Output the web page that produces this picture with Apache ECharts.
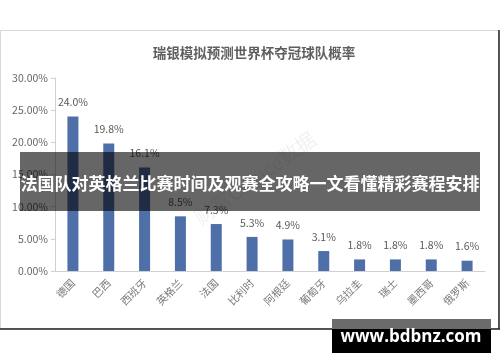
<!DOCTYPE html>
<html>
<head>
<meta charset="utf-8">
<script src="https://cdn.jsdelivr.net/npm/echarts@6/dist/echarts.min.js"></script>
<style>
html,body{margin:0;padding:0;background:#fff;}
#c{width:500px;height:362px;}
</style>
</head>
<body>
<div id="c"></div>
<script>
const categories = ['德国','巴西','西班牙','英格兰','法国','比利时','阿根廷','葡萄牙','乌拉圭','瑞士','墨西哥','俄罗斯'];
const values = [24.0, 19.8, 16.1, 8.5, 7.3, 5.3, 4.9, 3.1, 1.8, 1.8, 1.8, 1.6];
const yTicks = [0, 5, 10, 15, 20, 25, 30];
const titleText = '瑞银模拟预测世界杯夺冠球队概率';
const bannerText = '法国队对英格兰比赛时间及观赛全攻略一文看懂精彩赛程安排';
const footerText = 'www.bdbnz.com';
const watermarkText = '财富Choice数据';

const FONT = '"Noto Sans CJK SC", "Noto Sans", sans-serif';
const chart = echarts.init(document.getElementById('c'), null, {renderer: 'canvas'});
chart.setOption({
  backgroundColor: '#fff',
  animation: false,
  title: {
    text: titleText,
    left: 249, top: 41, textAlign: 'center',
    textStyle: {fontSize: 13.5, fontWeight: 'bold', color: '#5f5f5f', fontFamily: FONT}
  },
  grid: {left: 55, right: 15, top: 78, bottom: 91, containLabel: false},
  xAxis: {
    type: 'category',
    data: categories,
    axisLine: {show: true, lineStyle: {color: '#d0d0d0', width: 1}},
    axisTick: {show: false},
    axisLabel: {rotate: 45, margin: 10, fontSize: 10.5, color: '#7a7a7a', fontFamily: FONT, interval: 0}
  },
  yAxis: {
    type: 'value',
    min: yTicks[0], max: yTicks[yTicks.length - 1], interval: 5,
    axisLine: {show: true, lineStyle: {color: '#d0d0d0', width: 1}},
    axisTick: {show: true, length: 4, lineStyle: {color: '#d0d0d0'}},
    splitLine: {show: false},
    axisLabel: {margin: 7, fontSize: 10.5, color: '#666', fontFamily: FONT,
      formatter: v => v.toFixed(2) + '%'}
  },
  series: [{
    type: 'bar',
    data: values,
    barWidth: 11,
    itemStyle: {color: '#4f6fa9'},
    label: {show: true, position: 'top', distance: 9, fontSize: 10.5, color: '#595959', fontFamily: FONT,
      formatter: p => p.value.toFixed(1) + '%'}
  }],
  graphic: [
    {type: 'rect', z: -10, shape: {x: 0.5, y: 30.5, width: 498, height: 298},
      style: {fill: 'none', stroke: '#d8d8d8', lineWidth: 1}},
    {type: 'line', z: -9, shape: {x1: 499, y1: 30, x2: 499, y2: 329}, style: {stroke: '#222', lineWidth: 1.5}},
    {type: 'line', z: -9, shape: {x1: 0, y1: 329, x2: 500, y2: 329}, style: {stroke: '#222', lineWidth: 1.5}},
    {type: 'text', z: -5, x: 255, y: 178, rotation: 0.62,
      style: {text: watermarkText, fill: 'rgba(0,0,0,0.06)', fontSize: 20, fontFamily: FONT,
        textAlign: 'center', textVerticalAlign: 'middle'}},
    {type: 'rect', z: 100, shape: {x: 20, y: 152, width: 460, height: 59},
      style: {fill: 'rgba(0,0,0,0.6)'}},
    {type: 'text', z: 101, x: 250, y: 184,
      style: {text: bannerText, fill: '#fff', fontSize: 17, fontWeight: 'bold', fontFamily: FONT,
        textAlign: 'center', textVerticalAlign: 'middle'}},
    {type: 'rect', z: 100, shape: {x: 332, y: 319, width: 159, height: 10}, style: {fill: '#6b6b6b'}},
    {type: 'rect', z: 100, shape: {x: 332, y: 329, width: 159, height: 24}, style: {fill: '#000'}},
    {type: 'text', z: 101, x: 411, y: 337,
      style: {text: footerText, fill: '#fff', fontSize: 17, fontWeight: 'bold', fontFamily: '"Open Sans", "DejaVu Sans", sans-serif',
        textAlign: 'center', textVerticalAlign: 'middle'}}
  ]
});
</script>
</body>
</html>
